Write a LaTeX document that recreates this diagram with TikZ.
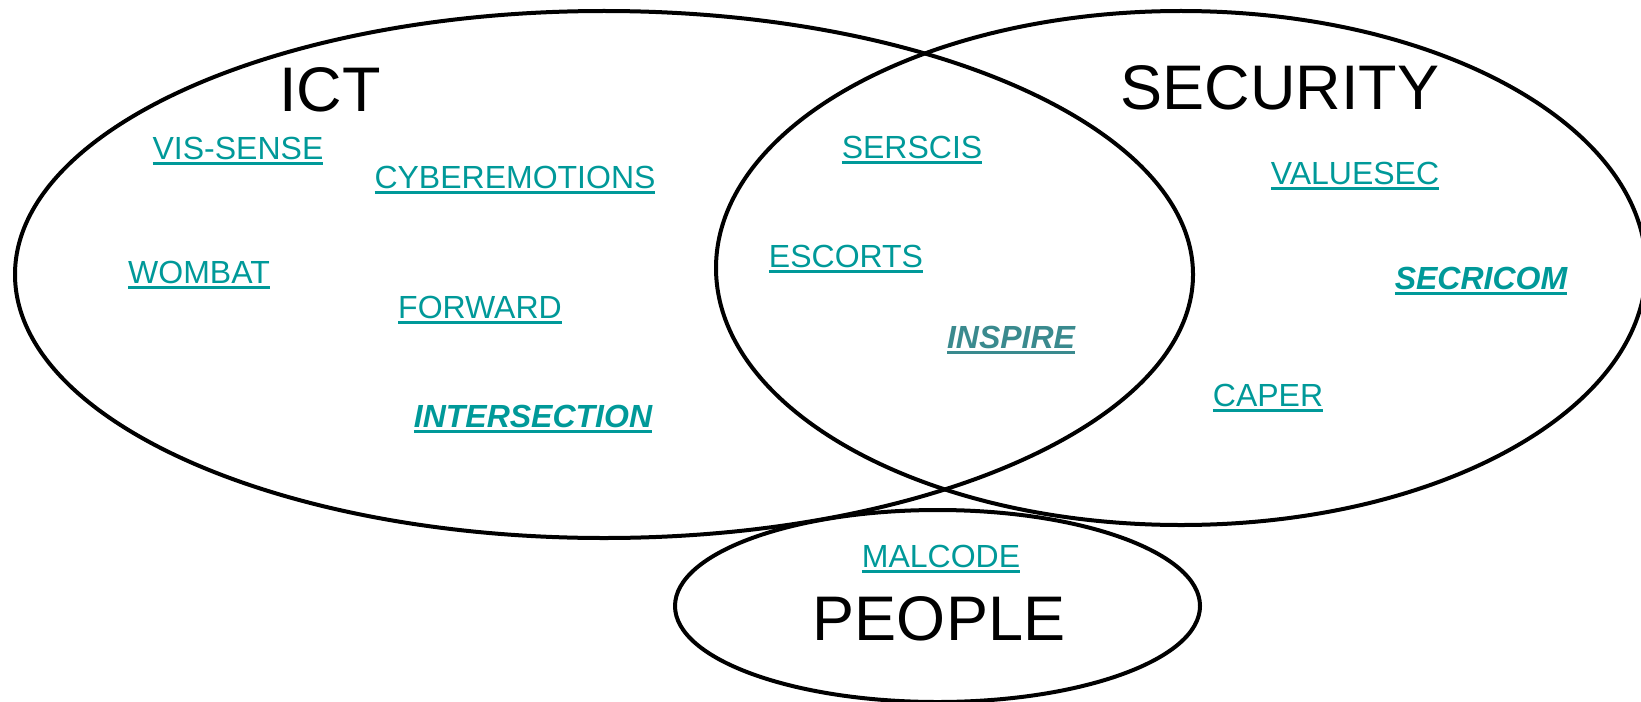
\documentclass[tikz,border=0pt]{standalone}
\usepackage{fontspec}
\setmainfont{Liberation Sans}
\usetikzlibrary{shapes.geometric}
\definecolor{linkteal}{RGB}{0,153,153}
\definecolor{linkslate}{RGB}{58,138,142}
\tikzset{
  venn/set/.style={draw, ellipse, line width=2pt, inner sep=0pt},
  venn/title/.style={font=\fontsize{31.5}{36}\selectfont, inner sep=0pt, anchor=base},
  venn/project/.style={font=\fontsize{16}{19}\selectfont, text=linkteal, inner sep=0pt, anchor=base},
  venn/lead/.style={venn/project, font=\fontsize{16}{19}\selectfont\bfseries\itshape}
}
% hyperlink-like label: thick rule just under the baseline
\newcommand{\projlink}[1]{\setbox0=\hbox{#1}\rlap{\vrule height -0.1em depth 0.2em width \wd0}\box0}

\begin{document}
\begin{tikzpicture}[x=0.5pt, y=-0.5pt]
  \useasboundingbox (0,0) rectangle (1641,701);
  \clip (0,0) rectangle (1641,701);

  % the three sets
  \node[venn/set, minimum width=589pt, minimum height=263.5pt] (ict) at (604,274.5) {};
  \node[venn/set, minimum width=465pt, minimum height=257pt] (security) at (1181,268) {};
  \node[venn/set, minimum width=262.5pt, minimum height=96pt] (people) at (937.5,606) {};

  \node[venn/title] (ictname) at (330,112) {ICT};
  \node[venn/title] (securityname) at (1280,110) {SECURITY};
  \node[venn/title] (peoplename) at (939,640) {PEOPLE};

  % projects
  \node[venn/project] (vissense) at (238,159) {\projlink{VIS-SENSE}};
  \node[venn/project] (cyberemotions) at (515,188) {\projlink{CYBEREMOTIONS}};
  \node[venn/project] (wombat) at (199,283) {\projlink{WOMBAT}};
  \node[venn/project] (forward) at (480,318) {\projlink{FORWARD}};
  \node[venn/lead] (intersection) at (533,427) {\projlink{INTERSECTION}};

  \node[venn/project] (serscis) at (912,158) {\projlink{SERSCIS}};
  \node[venn/project] (escorts) at (846,267) {\projlink{ESCORTS}};
  \node[venn/lead, text=linkslate] (inspire) at (1011,348) {\projlink{INSPIRE}};

  \node[venn/project] (valuesec) at (1355,184) {\projlink{VALUESEC}};
  \node[venn/lead] (secricom) at (1481,289) {\projlink{SECRICOM}};
  \node[venn/project] (caper) at (1268,406) {\projlink{CAPER}};

  \node[venn/project] (malcode) at (941,567) {\projlink{MALCODE}};
\end{tikzpicture}
\end{document}
